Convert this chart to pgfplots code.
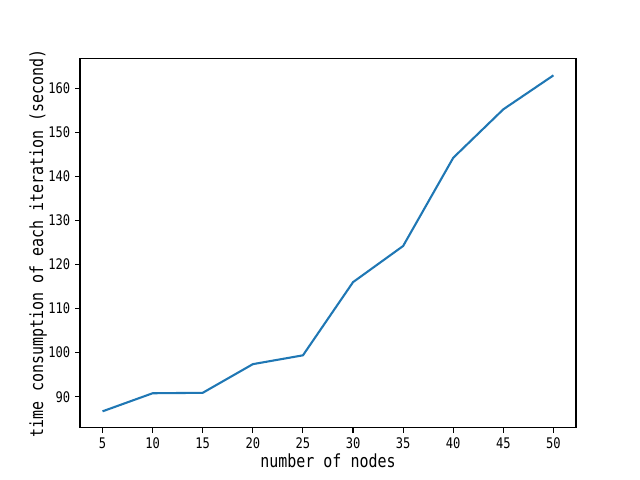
\documentclass[border=0pt]{standalone}
\usepackage{fontspec}
\usepackage{pgfplots}
\pgfplotsset{compat=1.18}
\setmainfont{DejaVu Sans Mono}[FakeStretch=0.83]
\definecolor{mplblue}{HTML}{1F77B4}

\begin{document}
\begin{tikzpicture}
\begin{axis}[
  scale only axis,
  width=357.1pt, height=265.7pt,
  xmin=2.75, xmax=52.25,
  ymin=83.0, ymax=166.7,
  xtick={5,10,15,20,25,30,35,40,45,50},
  ytick={90,100,110,120,130,140,150,160},
  tick align=outside,
  tick pos=left,
  major tick length=3.5pt,
  every tick/.style={black, line width=0.8pt},
  axis line style={line width=0.8pt},
  /pgf/number format/assume math mode=true,
  tick label style={font=\fontsize{10.5}{12}\selectfont},
  xlabel={number of nodes},
  ylabel={time consumption of each iteration (second)},
  label style={font=\fontsize{13}{15}\selectfont},
  xlabel style={at={(axis description cs:0.5,-0.1084)}, anchor=base},
  ylabel style={at={(axis description cs:-0.0745,0.5)}, anchor=base, rotate=0},
]
\addplot[color=mplblue, line width=1.5pt, line join=round] coordinates {
  (5,86.7) (10,90.8) (15,90.9) (20,97.4) (25,99.4)
  (30,116.0) (35,124.2) (40,144.2) (45,155.2) (50,162.9)
};
\coordinate (O) at (rel axis cs:0,0);
\end{axis}
\pgfresetboundingbox
\path (O) ++(-57.6pt,-37.7pt) rectangle ++(460.8pt,345.6pt);
\end{tikzpicture}
\end{document}
